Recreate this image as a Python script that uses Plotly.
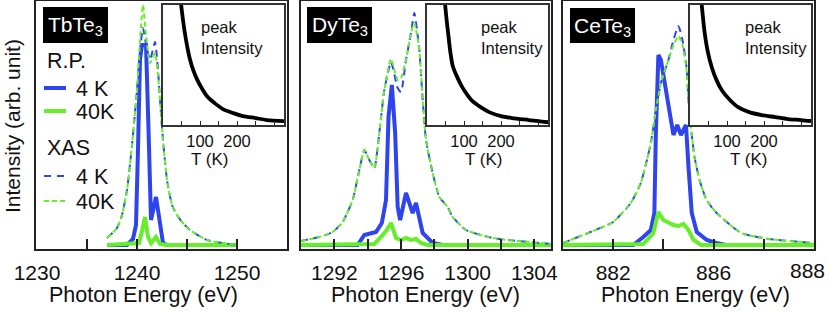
import plotly.graph_objects as go

# ---------------- data ----------------
# Panel 1: TbTe3
tb_xas_E = [1237.0, 1238.0, 1238.5, 1239.0, 1239.5, 1240.0, 1240.3, 1240.6, 1240.9, 1241.3,
            1241.8, 1242.1, 1242.3, 1242.6, 1243.0, 1243.5, 1244.0, 1244.5, 1245.3, 1247.0, 1250.0]
tb_xas_4K = [11, 21, 34, 59, 104, 159, 199, 221, 205, 189, 207, 179, 149, 109, 69, 44, 34, 27, 19, 9, 4]
tb_xas_40K = [11, 21, 34, 59, 104, 159, 209, 244, 214, 186, 196, 174, 149, 109, 69, 44, 34, 27, 19, 9, 4]
tb_rp4_E = [1237.0, 1239.0, 1239.6, 1239.9, 1240.1, 1240.3, 1240.5, 1240.9, 1241.15, 1241.4,
            1241.9, 1242.3, 1242.6, 1243.0, 1250.0]
tb_rp_4K = [4, 4, 10, 24, 100, 190, 204, 204, 120, 29, 52, 24, 6, 4, 4]
tb_rp40_E = [1237.0, 1240.2, 1240.5, 1240.8, 1241.1, 1241.4, 1241.9, 1242.3, 1243.0, 1250.0]
tb_rp_40K = [4, 6, 18, 32, 12, 6, 12, 5, 4, 4]

# Panel 2: DyTe3
dy_xas_E = [1290.0, 1291.1, 1291.9, 1292.5, 1293.1, 1293.5, 1293.8, 1294.1, 1294.4, 1294.7,
            1295.0, 1295.4, 1295.8, 1296.0, 1296.3, 1296.6, 1296.8, 1297.1, 1297.3, 1297.5,
            1297.9, 1298.3, 1298.8, 1299.1, 1299.9, 1301.5, 1305.0]
dy_xas_4K = [8, 12, 17, 27, 49, 79, 99, 89, 81, 116, 159, 187, 161, 157, 189, 216, 236, 199, 149,
             109, 76, 52, 42, 32, 19, 11, 5]
dy_xas_40K = [8, 12, 17, 27, 49, 79, 99, 89, 81, 116, 159, 190, 169, 171, 189, 216, 226, 199, 149,
              109, 76, 52, 42, 32, 19, 11, 5]
dy_rp4_E = [1290.0, 1293.4, 1293.8, 1294.5, 1294.85, 1295.1, 1295.25, 1295.45, 1295.65, 1295.8,
            1295.95, 1296.3, 1296.7, 1296.9, 1297.3, 1297.9, 1298.5, 1305.0]
dy_rp_4K = [4, 4, 14, 17, 26, 49, 132, 164, 116, 42, 29, 56, 36, 46, 16, 6, 4, 4]
dy_rp40_E = [1290.0, 1294.4, 1294.8, 1295.1, 1295.4, 1295.7, 1296.0, 1296.3, 1296.6, 1296.9,
             1297.2, 1297.6, 1305.0]
dy_rp_40K = [4, 5, 12, 18, 26, 11, 9, 11, 9, 10, 6, 4, 4]

# Panel 3: CeTe3
ce_xas_E = [880.0, 881.0, 882.0, 882.7, 883.1, 883.5, 883.7, 883.9, 884.2, 884.4, 884.6, 884.76,
            884.92, 885.0, 885.12, 885.24, 885.44, 885.72, 886.12, 887.1, 888.2, 890.0]
ce_xas_4K = [6, 16, 27, 46, 66, 106, 139, 166, 189, 209, 223, 209, 182, 149, 116, 92, 69, 49, 36,
             16, 10, 6]
ce_xas_40K = [6, 16, 27, 46, 66, 106, 139, 166, 189, 204, 213, 204, 180, 149, 116, 92, 69, 49, 36,
              16, 10, 6]
ce_rp4_E = [880.0, 882.8, 883.2, 883.5, 883.64, 883.7, 883.8, 883.9, 884.4, 884.55, 884.7, 884.9,
            885.0, 885.13, 885.33, 885.73, 886.1, 886.5, 890.0]
ce_rp_4K = [4, 4, 12, 19, 36, 116, 194, 189, 114, 124, 114, 124, 82, 36, 17, 9, 6, 4, 4]
ce_rp40_E = [880.0, 883.2, 883.6, 883.8, 884.0, 884.4, 884.6, 884.8, 885.0, 885.2, 885.5, 890.0]
ce_rp_40K = [4, 5, 16, 37, 29, 24, 23, 25, 19, 9, 4, 4]

# Insets: peak intensity vs T
ins1_T = [46, 49, 54, 59, 66, 73, 82, 92, 105, 119, 140, 162, 190, 216, 250, 281, 327]
ins1_I = [130, 121, 106, 93, 78, 66, 55, 46, 37, 29, 22, 16, 12, 9, 7, 5, 4]
ins2_T = [45, 49, 53, 57, 63, 70, 82, 94, 108, 123, 145, 168, 200, 230, 275, 321, 327]
ins2_I = [135, 121, 106, 93, 74, 59, 48, 39, 31, 24, 18, 13, 9, 7, 5, 3, 3]
ins3_T = [28, 32, 36, 40, 48, 59, 72, 86, 106, 130, 160, 194, 230, 265, 300, 327]
ins3_I = [135, 120, 105, 92, 74, 58, 45, 35, 26, 18, 13, 10, 8, 6, 5, 4]

compounds = ["TbTe<sub>3</sub>", "DyTe<sub>3</sub>", "CeTe<sub>3</sub>"]
x_ranges = [[1229.9, 1255], [1290, 1305], [880, 890]]
major_ticks = [[1230, 1240, 1250], [1292, 1296, 1300, 1304], [882, 886]]
major_text = [["1230", "1240", "1250"], ["1292", "1296", "1300", "1304"], ["882", "886"]]
minor_ticks = [[1235, 1245], [1294, 1298, 1302], [884, 888]]
extra_label_E = 889.76  # position of the stray "888" label in panel 3
ins_ticks = [100, 200]
ins_minor = [50, 150, 250, 300]

# ---------------- styling ----------------
W, H = 830, 312
BLUE = "#2e44ee"
GREEN = "#66ee2a"
FRAME = "#222222"
FONT = "Liberation Sans, Arial, sans-serif"


def fx(p):
    return p / W


def fy(p):
    return 1 - p / H


main_px = [(36, 287), (301, 551), (563, 814)]
main_top, main_bot = 1, 249
inset_px = [(163, 284), (427, 548), (690, 811)]
inset_top, inset_bot = 5, 125

panel_data = [
    (tb_rp4_E, tb_rp_4K, tb_rp40_E, tb_rp_40K, tb_xas_E, tb_xas_4K, tb_xas_40K),
    (dy_rp4_E, dy_rp_4K, dy_rp40_E, dy_rp_40K, dy_xas_E, dy_xas_4K, dy_xas_40K),
    (ce_rp4_E, ce_rp_4K, ce_rp40_E, ce_rp_40K, ce_xas_E, ce_xas_4K, ce_xas_40K),
]
inset_data = [(ins1_T, ins1_I), (ins2_T, ins2_I), (ins3_T, ins3_I)]

fig = go.Figure()
layout = dict(
    width=W, height=H, margin=dict(l=0, r=0, t=0, b=0, pad=0), autosize=False,
    paper_bgcolor="white", plot_bgcolor="white", showlegend=False,
    font=dict(family=FONT, color="#111111", size=20),
)

for i, (rE4, r4, rE40, r40, xE, x4, x40) in enumerate(panel_data):
    s = "" if i == 0 else str(i + 1)
    xa, ya = "x" + s, "y" + s
    fig.add_trace(go.Scatter(x=rE4, y=r4, mode="lines", line=dict(color=BLUE, width=4),
                             xaxis=xa, yaxis=ya))
    fig.add_trace(go.Scatter(x=rE40, y=r40, mode="lines", line=dict(color=GREEN, width=4),
                             xaxis=xa, yaxis=ya))
    fig.add_trace(go.Scatter(x=xE, y=x4, mode="lines",
                             line=dict(color=BLUE, width=2, dash="7px,5px", shape="spline",
                                       smoothing=0.5),
                             xaxis=xa, yaxis=ya))
    fig.add_trace(go.Scatter(x=xE, y=x40, mode="lines",
                             line=dict(color=GREEN, width=2, dash="5px,3px", shape="spline",
                                       smoothing=0.5),
                             xaxis=xa, yaxis=ya))
    x0, x1 = main_px[i]
    layout["xaxis" + s] = dict(
        domain=[fx(x0), fx(x1)], range=x_ranges[i], anchor=ya, automargin=False,
        tickmode="array", tickvals=major_ticks[i], ticktext=major_text[i],
        ticks="inside", ticklen=10, tickwidth=2, tickcolor=FRAME,
        minor=dict(tickmode="array", tickvals=minor_ticks[i], ticks="inside", ticklen=10,
                   tickwidth=2, tickcolor=FRAME),
        showline=True, mirror=True, linewidth=2, linecolor=FRAME,
        showgrid=False, zeroline=False, tickfont=dict(size=21, family=FONT, color="#111"),
        ticklabelstandoff=4,
    )
    layout["yaxis" + s] = dict(
        domain=[fy(main_bot), fy(main_top)], range=[0, 248], anchor=xa, automargin=False,
        showticklabels=False, ticks="", showline=True, mirror=True, linewidth=2,
        linecolor=FRAME, showgrid=False, zeroline=False,
    )

for i, (T, I) in enumerate(inset_data):
    n = str(i + 4)
    xa, ya = "x" + n, "y" + n
    fig.add_trace(go.Scatter(x=T, y=I, mode="lines",
                             line=dict(color="black", width=3.8, shape="spline", smoothing=0.8),
                             xaxis=xa, yaxis=ya))
    x0, x1 = inset_px[i]
    layout["xaxis" + n] = dict(
        domain=[fx(x0), fx(x1)], range=[0, 327], anchor=ya, automargin=False,
        tickmode="array", tickvals=ins_ticks, ticks="inside", ticklen=4, tickwidth=1,
        tickcolor=FRAME,
        minor=dict(tickmode="array", tickvals=ins_minor, ticks="inside", ticklen=4, tickwidth=1,
                   tickcolor=FRAME),
        showline=True, mirror=True, linewidth=1.5, linecolor="#333",
        showgrid=False, zeroline=False, tickfont=dict(size=16.5, family=FONT, color="#111"),
    )
    layout["yaxis" + n] = dict(
        domain=[fy(inset_bot), fy(inset_top)], range=[0, 121], anchor=xa, automargin=False,
        showticklabels=False, ticks="", showline=True, mirror=True, linewidth=1.5,
        linecolor="#333", showgrid=False, zeroline=False,
    )

shapes = []
annotations = []

# compound label boxes
boxes = [(43, 7, 108, 43), (307, 7, 372, 43), (570, 8, 635, 43)]
for (bx0, by0, bx1, by1), name in zip(boxes, compounds):
    shapes.append(dict(type="rect", xref="paper", yref="paper", x0=fx(bx0), x1=fx(bx1),
                       y0=fy(by1), y1=fy(by0), fillcolor="black", line=dict(width=0)))
    annotations.append(dict(text=name, xref="paper", yref="paper", x=fx((bx0 + bx1) / 2),
                            y=fy((by0 + by1) / 2 + 1), xanchor="center", yanchor="middle",
                            showarrow=False, font=dict(size=21, color="white", family=FONT)))

# manual legend in panel 1
leg_titles = [("R.P.", 60), ("XAS", 147)]
for t, yy in leg_titles:
    annotations.append(dict(text=t, xref="paper", yref="paper", x=fx(45), y=fy(yy + 1),
                            xanchor="left", yanchor="middle", showarrow=False,
                            font=dict(size=21.5, family=FONT, color="#111")))
leg_items = [("4 K", 88, BLUE, 4, "solid"), ("40K", 111, GREEN, 4, "solid"),
             ("4 K", 176, BLUE, 2, "7px,6px"), ("40K", 201, GREEN, 2, "5px,3px")]
for t, yy, col, w, d in leg_items:
    shapes.append(dict(type="line", xref="paper", yref="paper", x0=fx(44), x1=fx(66),
                       y0=fy(yy), y1=fy(yy), line=dict(color=col, width=w, dash=d)))
    annotations.append(dict(text=t, xref="paper", yref="paper", x=fx(74), y=fy(yy + 1),
                            xanchor="left", yanchor="middle", showarrow=False,
                            font=dict(size=21.5, family=FONT, color="#111")))

# inset texts
peak_x = [199, 479, 743]
tk_x = [210, 483, 748]
for i in range(3):
    annotations.append(dict(text="peak<br>Intensity", xref="paper", yref="paper",
                            x=fx(peak_x[i]), y=fy(37), xanchor="left", yanchor="middle",
                            align="left", showarrow=False,
                            font=dict(size=16.5, family=FONT, color="#111")))
    annotations.append(dict(text="T (K)", xref="paper", yref="paper", x=fx(tk_x[i]), y=fy(159),
                            xanchor="center", yanchor="middle", showarrow=False,
                            font=dict(size=17, family=FONT, color="#111")))

# x titles
title_x = [143, 425, 695]
for cx in title_x:
    annotations.append(dict(text="Photon Energy (eV)", xref="paper", yref="paper", x=fx(cx),
                            y=fy(295), xanchor="center", yanchor="middle", showarrow=False,
                            font=dict(size=21.5, family=FONT, color="#111")))

# stray "888" tick label of panel 3
annotations.append(dict(text="888", xref="x3", yref="paper", x=extra_label_E, y=fy(270),
                        xanchor="center", yanchor="middle", showarrow=False,
                        font=dict(size=21, family=FONT, color="#111")))

# y title
annotations.append(dict(text="Intensity (arb. unit)", xref="paper", yref="paper", x=fx(12),
                        y=fy(126), xanchor="center", yanchor="middle", textangle=-90,
                        showarrow=False, font=dict(size=21, family=FONT, color="#111")))

layout["shapes"] = shapes
layout["annotations"] = annotations
fig.update_layout(**layout)
fig.write_html(
    "out.html",
    config={"responsive": False, "displayModeBar": False},
    post_script="document.body.style.margin='0';document.body.style.overflow='hidden';",
)
